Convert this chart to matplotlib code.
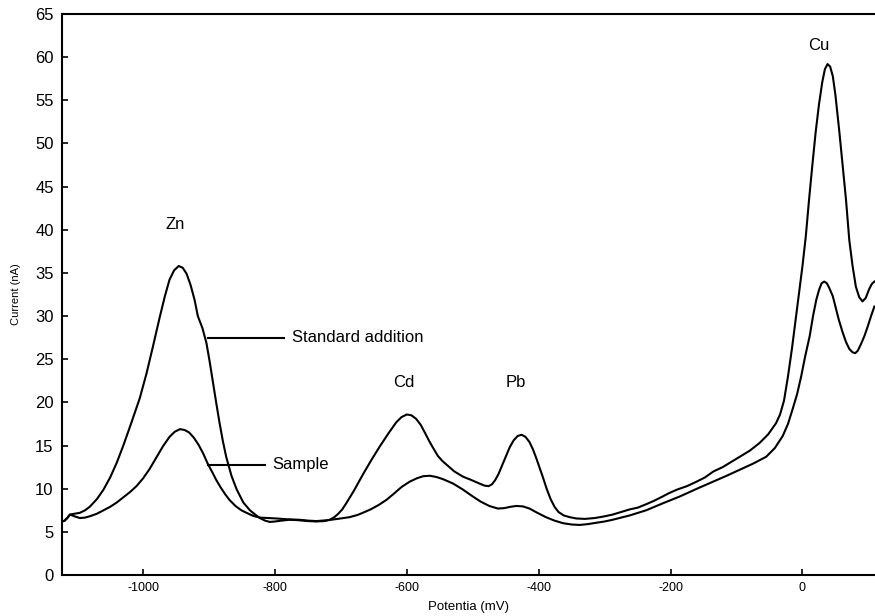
import matplotlib
matplotlib.use("Agg")
import matplotlib.pyplot as plt

# ----------------------------------------------------
# Data (potential in mV, current in nA)
# ----------------------------------------------------
std_x = [-1123, -1119, -1115, -1111, -1104, -1096, -1088, -1081, -1070, -1060,
         -1050, -1040, -1030, -1018, -1005, -995, -985, -975, -967, -960,
         -953, -946, -940, -934, -928, -922, -917, -910, -904, -899,
         -894, -889, -884, -879, -874, -866, -858, -848, -838, -830,
         -823, -815, -808, -800, -790, -778, -765, -750, -737, -725,
         -717, -710, -704, -698, -692, -680, -667, -654, -641, -628,
         -616, -608, -600, -593, -586, -579, -572, -566, -560, -553,
         -546, -540, -528, -515, -502, -490, -482, -476, -471, -466,
         -461, -455, -449, -444, -438, -432, -426, -420, -414, -409,
         -404, -399, -394, -388, -382, -376, -370, -362, -353, -343,
         -330, -315, -300, -288, -275, -262, -250, -237, -225, -212,
         -202, -190, -175, -161, -148, -135, -121, -108, -95, -80,
         -65, -52, -40, -34, -28, -22, -16, -10, -5, 0,
         5, 10, 15, 20, 25, 30, 34, 38, 42, 46,
         50, 53, 56, 61, 66, 71, 76, 81, 86, 91,
         96, 101, 105, 109]
std_y = [6.2, 6.3, 6.6, 7.0, 7.1, 7.2, 7.5, 7.9, 8.8, 9.9,
         11.3, 13.0, 15.0, 17.6, 20.5, 23.3, 26.5, 29.8, 32.3, 34.2,
         35.3, 35.8, 35.6, 34.9, 33.6, 31.9, 30.0, 28.6, 26.9, 24.7,
         22.3, 19.9, 17.6, 15.5, 13.7, 11.5, 9.9, 8.4, 7.5, 7.0,
         6.6, 6.3, 6.15, 6.2, 6.3, 6.4, 6.35, 6.25, 6.2, 6.25,
         6.4, 6.7, 7.1, 7.6, 8.3, 9.8, 11.6, 13.3, 14.9, 16.4,
         17.7, 18.3, 18.6, 18.5, 18.1, 17.4, 16.4, 15.5, 14.7, 13.8,
         13.2, 12.8, 12.0, 11.4, 11.0, 10.6, 10.35, 10.3, 10.5, 11.0,
         11.7, 12.8, 13.9, 14.8, 15.6, 16.1, 16.25, 16.0, 15.4, 14.6,
         13.6, 12.5, 11.4, 10.0, 8.8, 7.9, 7.3, 6.9, 6.7, 6.55,
         6.5, 6.6, 6.8, 7.0, 7.3, 7.6, 7.8, 8.2, 8.6, 9.1,
         9.5, 9.9, 10.3, 10.8, 11.3, 12.0, 12.5, 13.1, 13.7, 14.4,
         15.3, 16.3, 17.6, 18.6, 20.2, 23.0, 26.2, 29.8, 32.8, 35.8,
         39.2, 43.5, 47.5, 51.3, 54.5, 57.1, 58.6, 59.2, 58.9, 57.8,
         55.6, 53.5, 51.3, 47.4, 43.5, 38.8, 35.8, 33.4, 32.2, 31.7,
         32.1, 33.1, 33.7, 34.0]

smp_x = [-1123, -1119, -1115, -1111, -1104, -1096, -1088, -1081, -1070, -1060,
         -1050, -1040, -1030, -1020, -1010, -1000, -990, -980, -970, -960,
         -952, -944, -937, -930, -923, -916, -909, -902, -895, -889,
         -882, -875, -869, -860, -851, -843, -833, -823, -810, -798,
         -780, -763, -750, -737, -720, -705, -687, -675, -667, -655,
         -643, -631, -620, -608, -596, -585, -575, -565, -555, -545,
         -530, -515, -500, -488, -475, -462, -452, -443, -434, -424,
         -414, -402, -389, -376, -363, -350, -338, -325, -313, -300,
         -288, -262, -237, -212, -186, -160, -136, -115, -95, -75,
         -55, -42, -30, -22, -15, -8, -2, 4, 11, 16,
         21, 25, 29, 33, 37, 41, 46, 50, 55, 61,
         66, 71, 76, 80, 84, 89, 94, 99, 104, 109]
smp_y = [6.2, 6.3, 6.6, 7.0, 6.8, 6.6, 6.65, 6.8, 7.1, 7.5,
         7.9, 8.4, 9.0, 9.6, 10.3, 11.2, 12.3, 13.6, 14.9, 16.0,
         16.6, 16.9, 16.8, 16.5, 15.9, 15.1, 14.1, 12.9, 11.9, 11.0,
         10.1, 9.3, 8.7, 8.0, 7.5, 7.2, 6.85, 6.65, 6.6, 6.55,
         6.45, 6.4, 6.3, 6.25, 6.35, 6.5, 6.7, 6.95, 7.2, 7.6,
         8.1, 8.7, 9.4, 10.2, 10.8, 11.2, 11.45, 11.5, 11.35, 11.1,
         10.6, 9.9, 9.1, 8.5, 8.0, 7.7, 7.75, 7.9, 8.0, 7.95,
         7.7, 7.2, 6.7, 6.3, 6.0, 5.85, 5.8, 5.9, 6.05, 6.2,
         6.4, 6.9, 7.5, 8.3, 9.1, 10.0, 10.8, 11.5, 12.2, 12.9,
         13.7, 14.7, 16.1, 17.5, 19.2, 21.0, 23.0, 25.3, 27.7, 30.0,
         31.9, 33.0, 33.8, 34.0, 33.8, 33.2, 32.3, 31.1, 29.6, 28.1,
         27.0, 26.2, 25.8, 25.7, 26.0, 26.8, 27.7, 28.8, 30.0, 31.1]

peak_labels = ["Zn", "Cd", "Pb", "Cu"]
peak_label_x = [-952, -604, -435, 25]
peak_label_y = [40.6, 22.3, 22.3, 61.3]

# ----------------------------------------------------
# Figure
# ----------------------------------------------------
plt.rcParams["font.family"] = ["Liberation Sans", "DejaVu Sans"]
plt.rcParams["axes.unicode_minus"] = False

fig = plt.figure(figsize=(8.75, 6.16), dpi=100)
ax = fig.add_axes([62 / 875, 1 - 575 / 616, 1 - 62 / 875, (575 - 14) / 616])

ax.plot(std_x, std_y, color="black", linewidth=1.5, solid_joinstyle="round")
ax.plot(smp_x, smp_y, color="black", linewidth=1.5, solid_joinstyle="round")

# curve labels with leader lines
ax.plot([-902, -787], [27.5, 27.5], color="black", linewidth=1.5)
ax.text(-774, 27.5, "Standard addition", fontsize=12, va="center", ha="left")
ax.plot([-902, -815], [12.8, 12.8], color="black", linewidth=1.5)
ax.text(-804, 12.8, "Sample", fontsize=12, va="center", ha="left")

for lab, lx, ly in zip(peak_labels, peak_label_x, peak_label_y):
    ax.text(lx, ly, lab, fontsize=12, ha="center", va="center")

ax.set_xlim(-1123, 110)
ax.set_ylim(0, 65)
ax.set_xticks([-1000, -800, -600, -400, -200, 0])
ax.set_yticks(range(0, 66, 5))

ax.tick_params(axis="y", direction="in", length=4, width=1.2, labelsize=12, pad=6)
ax.tick_params(axis="x", direction="in", length=4, width=1.2, labelsize=9, pad=5)

for side in ["left", "bottom", "top"]:
    ax.spines[side].set_linewidth(1.5)
ax.spines["right"].set_visible(False)

ax.set_xlabel("Potentia (mV)", fontsize=9.5, labelpad=5)
ax.set_ylabel("Current (nA)", fontsize=8, labelpad=10)

plt.savefig("out.png", dpi=100)
plt.close()
